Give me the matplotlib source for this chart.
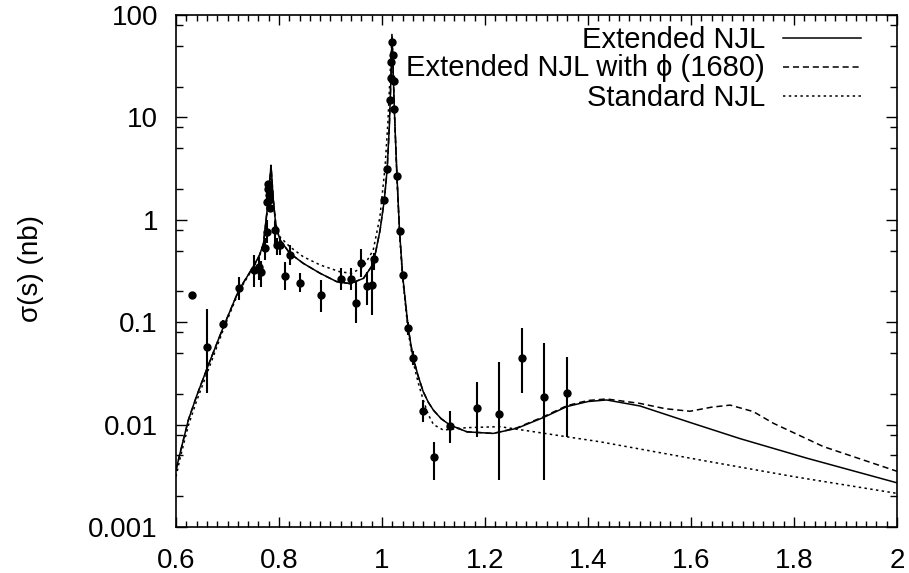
import numpy as np
import matplotlib
matplotlib.use("Agg")
import matplotlib.pyplot as plt
from matplotlib.lines import Line2D
from matplotlib.ticker import LogLocator, MultipleLocator, FixedFormatter, NullFormatter, FixedLocator

# ---- data points (x, y, error bar bounds) ----
data_x = [0.632, 0.661, 0.692, 0.722, 0.751, 0.761, 0.766, 0.772, 0.776,
          0.777, 0.778, 0.779, 0.780, 0.781, 0.783,
          0.792, 0.796, 0.801, 0.812, 0.821, 0.841, 0.881, 0.920, 0.940,
          0.950, 0.959, 0.970, 0.981, 0.985,
          1.0045, 1.010, 1.016, 1.0175, 1.018, 1.019, 1.022, 1.0227, 1.024,
          1.029, 1.034, 1.040, 1.050, 1.060, 1.079, 1.100, 1.132, 1.184,
          1.227, 1.272, 1.315, 1.360]
data_y = [0.185, 0.057, 0.097, 0.214, 0.324, 0.348, 0.311, 0.527, 0.766,
          1.50, 2.00, 2.25, 1.75, 1.56, 1.30,
          0.80, 0.568, 0.568, 0.283, 0.453, 0.243, 0.185, 0.262, 0.262,
          0.155, 0.381, 0.225, 0.231, 0.41,
          1.56, 3.1, 14.8, 24.4, 35.0, 54.0, 40.6, 22.8, 12.0,
          2.7, 0.78, 0.289, 0.087, 0.0444, 0.0137, 0.00486, 0.0097, 0.0146,
          0.0126, 0.0444, 0.0185, 0.0205]
data_lo = [0.185, 0.0205, 0.090, 0.165, 0.222, 0.258, 0.222, 0.405, 0.59,
           1.50, 2.00, 2.25, 1.75, 1.56, 1.30,
           0.60, 0.45, 0.45, 0.206, 0.362, 0.198, 0.126, 0.206, 0.206,
           0.0975, 0.278, 0.147, 0.117, 0.324,
           1.56, 3.1, 14.8, 24.4, 35.0, 54.0, 40.6, 22.8, 12.0,
           2.7, 0.78, 0.289, 0.075, 0.038, 0.0107, 0.00288, 0.00665, 0.0076,
           0.00288, 0.0205, 0.00288, 0.0076]
data_hi = [0.185, 0.134, 0.105, 0.279, 0.453, 0.436, 0.40, 0.66, 1.0,
           1.50, 2.00, 2.25, 1.75, 1.56, 1.30,
           0.98, 0.66, 0.66, 0.39, 0.568, 0.30, 0.258, 0.336, 0.336,
           0.249, 0.515, 0.311, 0.405, 0.471,
           1.56, 3.1, 14.8, 24.4, 35.0, 54.0, 40.6, 22.8, 12.0,
           2.7, 0.78, 0.289, 0.100, 0.052, 0.0174, 0.0068, 0.0137, 0.0262,
           0.0406, 0.087, 0.0622, 0.046]

# ---- model curves ----
ext_x = [0.600, 0.608, 0.624, 0.640, 0.6615, 0.692, 0.722, 0.750, 0.762, 0.770,
         0.777, 0.7845, 0.789, 0.794, 0.802, 0.821, 0.847, 0.880, 0.912, 0.938,
         0.964, 0.983, 0.996, 1.0045, 1.010, 1.0142, 1.0175, 1.0194, 1.022,
         1.024, 1.029, 1.034, 1.040, 1.051, 1.060, 1.070, 1.080, 1.090, 1.100,
         1.115, 1.132, 1.165, 1.216, 1.262, 1.313, 1.359, 1.400, 1.436, 1.501,
         1.598, 1.695, 1.825, 2.000]
ext_y = [0.0036, 0.0053, 0.0111, 0.019, 0.0367, 0.090, 0.206, 0.348, 0.45, 0.59,
         1.25, 3.4, 1.56, 0.86, 0.635, 0.471, 0.376, 0.300, 0.249, 0.238,
         0.268, 0.37, 0.78, 1.56, 3.1, 8.1, 25.0, 62.0, 25.0,
         11.8, 2.7, 0.78, 0.289, 0.087, 0.046, 0.030, 0.021, 0.0165, 0.0138,
         0.0114, 0.0099, 0.0085, 0.0082, 0.0092, 0.0117, 0.0150, 0.0168, 0.0174, 0.0152,
         0.0105, 0.0073, 0.0047, 0.0027]

phi_x = [0.600, 0.608, 0.624, 0.640, 0.6615, 0.692, 0.722, 0.750, 0.762, 0.770,
         0.777, 0.7845, 0.789, 0.794, 0.802, 0.821, 0.847, 0.880, 0.912, 0.938,
         0.964, 0.983, 0.996, 1.0045, 1.010, 1.0142, 1.0175, 1.0194, 1.022,
         1.024, 1.029, 1.034, 1.040, 1.051, 1.060, 1.070, 1.080, 1.090, 1.100,
         1.115, 1.132, 1.165, 1.216, 1.262, 1.313, 1.359, 1.400, 1.436, 1.501,
         1.550, 1.598, 1.640, 1.676, 1.721, 1.760, 1.857, 2.000]
phi_y = [0.0036, 0.0053, 0.0111, 0.019, 0.0367, 0.090, 0.206, 0.348, 0.45, 0.59,
         1.25, 3.4, 1.56, 0.86, 0.635, 0.471, 0.376, 0.300, 0.249, 0.238,
         0.268, 0.37, 0.78, 1.56, 3.1, 8.1, 25.0, 62.0, 25.0,
         11.8, 2.7, 0.78, 0.289, 0.087, 0.046, 0.030, 0.021, 0.0165, 0.0138,
         0.0114, 0.0099, 0.0085, 0.0082, 0.0093, 0.0119, 0.0153, 0.0172, 0.0178, 0.0161,
         0.0143, 0.0135, 0.0148, 0.0155, 0.0134, 0.0103, 0.0061, 0.0035]

std_x = [0.600, 0.608, 0.624, 0.640, 0.6615, 0.692, 0.722, 0.750, 0.762, 0.770,
         0.777, 0.7845, 0.789, 0.794, 0.802, 0.821, 0.847, 0.880, 0.918, 0.941,
         0.964, 0.983, 0.996, 1.006, 1.0115, 1.0155, 1.0180, 1.0194, 1.022,
         1.024, 1.029, 1.034, 1.040, 1.051, 1.061, 1.070, 1.080, 1.090, 1.100,
         1.119, 1.165, 1.229, 1.294, 1.359, 1.423, 1.630, 1.800, 2.000]
std_y = [0.0031, 0.0047, 0.0098, 0.017, 0.033, 0.085, 0.200, 0.340, 0.44, 0.58,
         1.2, 3.0, 1.5, 0.90, 0.68, 0.546, 0.436, 0.362, 0.311, 0.300,
         0.348, 0.507, 1.07, 3.3, 9.0, 25.0, 45.0, 66.0, 25.0,
         11.5, 2.6, 0.75, 0.27, 0.080, 0.040, 0.026, 0.0174, 0.0125, 0.0100,
         0.00885, 0.00934, 0.00955, 0.00853, 0.0076, 0.0068, 0.0044, 0.0031, 0.00213]

legend_labels = ["Extended NJL", "Extended NJL with \u03d5 (1680)", "Standard NJL"]
x_ticks = [0.6, 0.8, 1.0, 1.2, 1.4, 1.6, 1.8, 2.0]
x_ticklabels = ["0.6", "0.8", "1", "1.2", "1.4", "1.6", "1.8", "2"]
y_ticks = [0.001, 0.01, 0.1, 1, 10, 100]
y_ticklabels = ["0.001", "0.01", "0.1", "1", "10", "100"]

plt.rcParams['font.family'] = ['Liberation Sans', 'DejaVu Sans']
FS = 20

W, H = 909, 573
fig = plt.figure(figsize=(W / 100, H / 100), dpi=100)
ax = fig.add_axes([176 / W, 1 - 527 / H, (897 - 176) / W, (527 - 15) / H])

lw = 1.1
styles = ['-', (0, (4, 2.5)), (0, (1.6, 2.2))]
ax.plot(ext_x, ext_y, color='black', lw=lw, ls=styles[0])
ax.plot(phi_x, phi_y, color='black', lw=lw, ls=styles[1])
ax.plot(std_x, std_y, color='black', lw=lw, ls=styles[2])

dx = np.array(data_x); dy = np.array(data_y)
lo = np.array(data_lo); hi = np.array(data_hi)
ax.errorbar(dx, dy, yerr=[dy - lo, hi - dy], fmt='o', color='black',
            ms=5, elinewidth=1.5, capsize=0, zorder=5)

ax.set_yscale('log')
ax.set_xlim(0.6, 2.0)
ax.set_ylim(0.001, 100)

ax.xaxis.set_major_locator(FixedLocator(x_ticks))
ax.xaxis.set_major_formatter(FixedFormatter(x_ticklabels))
ax.xaxis.set_minor_locator(MultipleLocator(0.02))
ax.yaxis.set_major_locator(FixedLocator(y_ticks))
ax.yaxis.set_major_formatter(FixedFormatter(y_ticklabels))
ax.yaxis.set_minor_locator(LogLocator(base=10, subs=[2, 5, 8]))
ax.yaxis.set_minor_formatter(NullFormatter())

ax.tick_params(which='both', direction='in', top=True, right=True, labelsize=FS, width=1.0)
ax.tick_params(axis='x', which='major', length=7, pad=15)
ax.tick_params(axis='x', which='minor', length=4)
ax.tick_params(axis='y', which='major', length=8, pad=13)
ax.tick_params(axis='y', which='minor', length=5)
for s in ax.spines.values():
    s.set_linewidth(1.2)

fig.text(31 / W, 1 - 268 / H, "\u03c3(s) (nb)", fontsize=FS, rotation=90,
         ha='center', va='center')

# legend drawn as key entries in axes coordinates
ax_l, ax_w, ax_t, ax_h = 176, 721, 15, 512
def fx(px): return (px - ax_l) / ax_w
def fy(py): return 1 - (py - ax_t) / ax_h
for i, lab in enumerate(legend_labels):
    base = 47.5 + 29 * i
    mid = 38.3 + 29 * i
    ax.text(fx(765), fy(base), lab, transform=ax.transAxes, fontsize=21,
            ha='right', va='baseline')
    ax.add_line(Line2D([fx(783), fx(861)], [fy(mid), fy(mid)], transform=ax.transAxes,
                       color='black', lw=lw, ls=styles[i]))

fig.savefig("out.png", dpi=100)
